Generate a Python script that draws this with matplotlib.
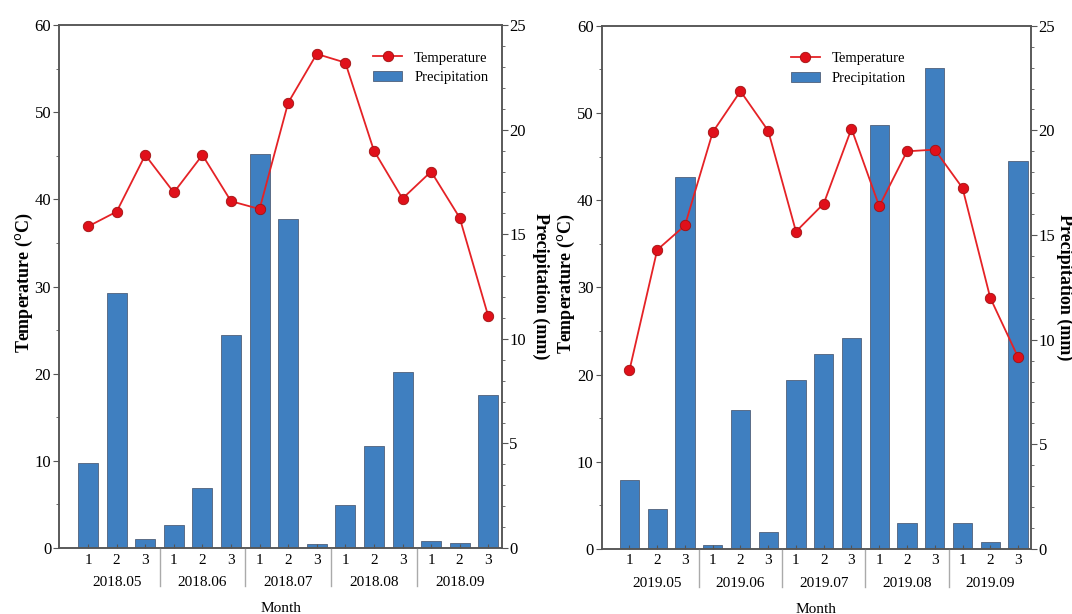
import matplotlib
matplotlib.use('Agg')
import matplotlib.pyplot as plt
import matplotlib.transforms as mtransforms
from matplotlib.ticker import MultipleLocator

plt.rcParams['font.family'] = ['Liberation Serif', 'DejaVu Serif']

dekads = ['1', '2', '3'] * 5
months_2018 = ['2018.05', '2018.06', '2018.07', '2018.08', '2018.09']
months_2019 = ['2019.05', '2019.06', '2019.07', '2019.08', '2019.09']

temp_2018 = [36.9, 38.6, 45.1, 40.8, 45.1, 39.8, 38.9, 51.1, 56.7, 55.7,
             45.6, 40.1, 43.2, 37.9, 26.6]
prec_2018 = [4.05, 12.19, 0.42, 1.08, 2.88, 10.17, 18.82, 15.73, 0.2, 2.04,
             4.89, 8.41, 0.35, 0.22, 7.31]

temp_2019 = [20.5, 34.3, 37.1, 47.8, 52.5, 47.95, 36.4, 39.6, 48.2, 39.3,
             45.6, 45.8, 41.4, 28.8, 22.0]
prec_2019 = [3.28, 1.91, 17.78, 0.2, 6.64, 0.8, 8.06, 9.32, 10.07, 20.28,
             1.26, 23.0, 1.26, 0.33, 18.55]

frame_color = '#555555'


def draw(fig, rect, temp, prec, months, legend_x, tlabel_x, plabel_x):
    ax = fig.add_axes(rect)
    ax2 = ax.twinx()
    x = list(range(len(temp)))

    bars = ax2.bar(x, prec, width=0.7, color='#3f7fc0', edgecolor='#50607a',
                   linewidth=0.6, label='Precipitation')
    line, = ax.plot(x, temp, '-o', color='#e52226', linewidth=1.3,
                    markersize=7.5, markerfacecolor='#e0101a',
                    markeredgecolor='#a01010', markeredgewidth=0.6,
                    label='Temperature')

    # temperature line on top of the bars
    ax.set_zorder(ax2.get_zorder() + 1)
    ax.patch.set_visible(False)

    ax.set_xlim(-1.0, 14.47)
    ax.set_ylim(0, 60)
    ax2.set_ylim(0, 25)
    ax.yaxis.set_major_locator(MultipleLocator(10))
    ax.yaxis.set_minor_locator(MultipleLocator(5))
    ax2.yaxis.set_major_locator(MultipleLocator(5))
    ax2.yaxis.set_minor_locator(MultipleLocator(1))

    ax.set_xticks(x)
    ax.set_xticklabels(dekads, fontsize=11)
    ax.tick_params(axis='x', direction='in', length=3, color=frame_color, pad=4)
    ax.tick_params(axis='y', which='major', direction='out', length=4,
                   color=frame_color, labelsize=12, pad=2)
    ax.tick_params(axis='y', which='minor', direction='out', length=2,
                   color=frame_color)
    ax2.tick_params(axis='y', which='major', direction='out', length=4,
                    color=frame_color, labelsize=12, pad=1.5)
    ax2.tick_params(axis='y', which='minor', direction='out', length=2,
                    color=frame_color)

    for a in (ax, ax2):
        for s in a.spines.values():
            s.set_color(frame_color)
            s.set_linewidth(1.1)

    ax.set_ylabel('Temperature ($^{\\rm o}$C)', fontsize=13, fontweight='bold')
    ax.yaxis.set_label_coords(tlabel_x, 0.507)
    ax2.set_ylabel('Precipitation (mm)', fontsize=13, fontweight='bold',
                   rotation=270)
    ax2.yaxis.set_label_coords(plabel_x, 0.5)

    # month groups under the dekad numbers
    trans = mtransforms.blended_transform_factory(ax.transData, ax.transAxes)
    for i, m in enumerate(months):
        ax.text(3 * i + 1, -0.066, m, transform=trans, ha='center',
                va='center', fontsize=11)
    for i in range(1, len(months)):
        ax.plot([3 * i - 0.5, 3 * i - 0.5], [0, -0.072], transform=trans,
                color='#aaaaaa', linewidth=1, clip_on=False)
    ax.text(0.5, -0.115, 'Month', transform=ax.transAxes, ha='center',
            va='center', fontsize=11)

    ax.legend([line, bars], ['Temperature', 'Precipitation'], loc='upper left',
              bbox_to_anchor=(legend_x, 0.975), frameon=False, fontsize=10.5,
              handlelength=2.0, handletextpad=0.8, labelspacing=0.45)
    return ax, ax2


fig = plt.figure(figsize=(10.72, 6.14), dpi=100)
draw(fig, [0.0555, 0.1075, 0.4125, 0.8515], temp_2018, prec_2018,
     months_2018, 0.68, -0.0555, 1.108)
draw(fig, [0.5613, 0.106, 0.4005, 0.852], temp_2019, prec_2019,
     months_2019, 0.41, -0.058, 1.098)
fig.savefig('out.png', dpi=100)
